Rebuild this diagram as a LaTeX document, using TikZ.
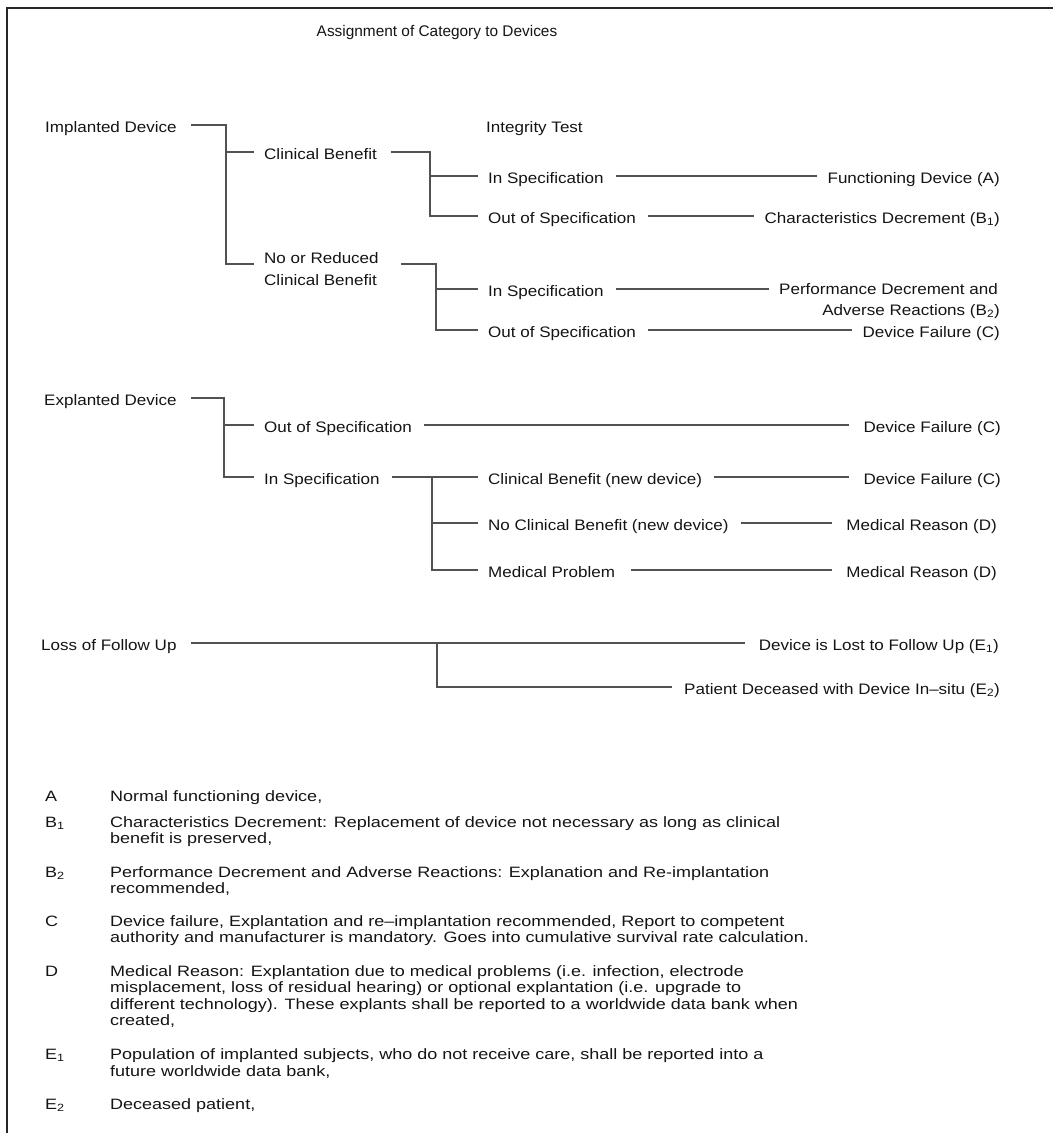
\documentclass[tikz,border=0pt]{standalone}
\usepackage{fontspec}
\setmainfont[FakeStretch=1.12]{Liberation Sans}
\newfontfamily\titlefont{Liberation Sans}
\newfontfamily\legfont[FakeStretch=1.2]{Liberation Sans}
\begin{document}
\begin{tikzpicture}[x=1pt,y=-1pt,
  t/.style={inner sep=0pt, anchor=base west, text=black!92, font=\fontsize{15.2}{18}\selectfont},
  tr/.style={inner sep=0pt, anchor=base east, text=black!92, font=\fontsize{15.2}{18}\selectfont},
  lg/.style={inner sep=0pt, anchor=base west, text=black!92, font=\legfont\fontsize{15}{16}\selectfont},
  ln/.style={line width=1.3pt, draw=black!68},
  frame/.style={draw=black!85}]
\useasboundingbox (0,0) rectangle (1053,1133);
\draw[frame, line width=2pt] (1053,8) -- (7,8);
\draw[frame, line width=1.5pt] (7,7) -- (7,1133);

\node[inner sep=0pt, text=black!92, font=\titlefont\fontsize{15.4}{18}\selectfont] (title) at (437,33) {Assignment of Category to Devices};

% ---------- Implanted device ----------
\node[t] (imp) at (45,132) {Implanted Device};
\node[t] (it) at (486,132) {Integrity Test};
\node[t] (cb) at (264,159) {Clinical Benefit};
\node[t] (nr1) at (264,263) {No or Reduced};
\node[t] (nr2) at (264,285) {Clinical Benefit};
\node[t] (is1) at (488,183) {In Specification};
\node[t] (os1) at (488,223) {Out of Specification};
\node[t] (is2) at (488,296) {In Specification};
\node[t] (os2) at (488,337) {Out of Specification};
\node[tr] (fa) at (1000,183) {Functioning Device (A)};
\node[tr] (cd) at (1000,223) {Characteristics Decrement (B\textsubscript{1})};
\node[tr] (pd1) at (998,294) {Performance Decrement and};
\node[tr] (pd2) at (1000,315) {Adverse Reactions (B\textsubscript{2})};
\node[tr] (df1) at (1000,337) {Device Failure (C)};

\coordinate (b1m) at (226,152);
\coordinate (b1b) at (226,264);
\coordinate (b2m) at (430,176);
\coordinate (b2b) at (430,216);
\coordinate (b3m) at (436,289);
\coordinate (b3b) at (436,330);

\draw[ln] ([xshift=14pt,yshift=7pt]imp.base east) -| (b1b) -- ([xshift=-10pt,yshift=-1pt]nr1.base west);
\draw[ln] (b1m) -- ([xshift=-10pt,yshift=7pt]cb.base west);
\draw[ln] ([xshift=14pt,yshift=7pt]cb.base east) -| (b2b) -- ([xshift=-10pt,yshift=7pt]os1.base west);
\draw[ln] (b2m) -- ([xshift=-10pt,yshift=7pt]is1.base west);
\draw[ln] ([xshift=22pt,yshift=-1pt]nr1.base east) -| (b3b) -- ([xshift=-10pt,yshift=7pt]os2.base west);
\draw[ln] (b3m) -- ([xshift=-10pt,yshift=7pt]is2.base west);

\draw[ln] ([xshift=12pt,yshift=7pt]is1.base east) -- ([xshift=-10pt,yshift=7pt]fa.base west);
\draw[ln] ([xshift=12pt,yshift=7pt]os1.base east) -- ([xshift=-10pt,yshift=7pt]cd.base west);
\draw[ln] ([xshift=12pt,yshift=7pt]is2.base east) -- ([xshift=-10pt,yshift=5pt]pd1.base west);
\draw[ln] ([xshift=12pt,yshift=7pt]os2.base east) -- ([xshift=-10pt,yshift=7pt]df1.base west);

% ---------- Explanted device ----------
\node[t] (exp) at (44,405) {Explanted Device};
\node[t] (oos) at (264,432) {Out of Specification};
\node[t] (ins) at (264,484) {In Specification};
\node[t] (cbn) at (488,484) {Clinical Benefit (new device)};
\node[t] (ncb) at (488,530) {No Clinical Benefit (new device)};
\node[t] (mp) at (488,577) {Medical Problem};
\node[tr] (df2) at (1001,432) {Device Failure (C)};
\node[tr] (df3) at (1001,484) {Device Failure (C)};
\node[tr] (mr1) at (997,530) {Medical Reason (D)};
\node[tr] (mr2) at (997,577) {Medical Reason (D)};

\coordinate (b4m) at (224,425);
\coordinate (b4b) at (224,477);
\coordinate (b5t) at (432,477);
\coordinate (b5m) at (432,523);

\draw[ln] ([xshift=14pt,yshift=7pt]exp.base east) -| (b4b) -- ([xshift=-10pt,yshift=7pt]ins.base west);
\draw[ln] (b4m) -- ([xshift=-10pt,yshift=7pt]oos.base west);
\draw[ln] ([xshift=12pt,yshift=7pt]oos.base east) -- ([xshift=-14pt,yshift=7pt]df2.base west);
\draw[ln] ([xshift=12pt,yshift=7pt]ins.base east) -- ([xshift=-10pt,yshift=7pt]cbn.base west);
\draw[ln] (b5t) |- ([xshift=-10pt,yshift=7pt]mp.base west);
\draw[ln] (b5m) -- ([xshift=-10pt,yshift=7pt]ncb.base west);
\draw[ln] ([xshift=12pt,yshift=7pt]cbn.base east) -- ([xshift=-14pt,yshift=7pt]df3.base west);
\draw[ln] ([xshift=12pt,yshift=7pt]ncb.base east) -- ([xshift=-14pt,yshift=7pt]mr1.base west);
\draw[ln] ([xshift=16pt,yshift=7pt]mp.base east) -- ([xshift=-14pt,yshift=7pt]mr2.base west);

% ---------- Loss of follow up ----------
\node[t] (lfu) at (41,650) {Loss of Follow Up};
\node[tr] (e1) at (999,650) {Device is Lost to Follow Up (E\textsubscript{1})};
\node[tr] (e2) at (1000,694) {Patient Deceased with Device In–situ (E\textsubscript{2})};
\coordinate (lj) at (437,643);
\draw[ln] ([xshift=14pt,yshift=7pt]lfu.base east) -- ([xshift=-14pt,yshift=7pt]e1.base west);
\draw[ln] (lj) |- ([xshift=-12pt,yshift=7pt]e2.base west);

% ---------- Legend ----------
\node[lg] (ka) at (45,801) {A};
\node[lg] (ta) at (110,801) {Normal functioning device,};
\node[lg] (kb1) at (45,827) {B\textsubscript{1}};
\node[lg] (tb1a) at (110,827) {Characteristics Decrement: Replacement of device not necessary as long as clinical};
\node[lg] (tb1b) at (110,843) {benefit is preserved,};
\node[lg] (kb2) at (45,877) {B\textsubscript{2}};
\node[lg] (tb2a) at (110,877) {Performance Decrement and Adverse Reactions: Explanation and Re-implantation};
\node[lg] (tb2b) at (110,893) {recommended,};
\node[lg] (kc) at (45,926) {C};
\node[lg] (tca) at (110,926) {Device failure, Explantation and re–implantation recommended, Report to competent};
\node[lg] (tcb) at (110,942) {authority and manufacturer is mandatory. Goes into cumulative survival rate calculation.};
\node[lg] (kd) at (45,976) {D};
\node[lg] (tda) at (110,976) {Medical Reason: Explantation due to medical problems (i.e. infection, electrode};
\node[lg] (tdb) at (110,992) {misplacement, loss of residual hearing) or optional explantation (i.e. upgrade to};
\node[lg] (tdc) at (110,1009) {different technology). These explants shall be reported to a worldwide data bank when};
\node[lg] (tdd) at (110,1025) {created,};
\node[lg] (ke1) at (45,1059) {E\textsubscript{1}};
\node[lg] (te1a) at (110,1059) {Population of implanted subjects, who do not receive care, shall be reported into a};
\node[lg] (te1b) at (110,1076) {future worldwide data bank,};
\node[lg] (ke2) at (45,1109) {E\textsubscript{2}};
\node[lg] (te2) at (110,1109) {Deceased patient,};
\end{tikzpicture}
\end{document}
